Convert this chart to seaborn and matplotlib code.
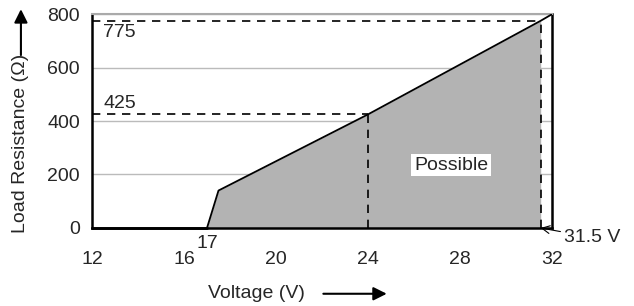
import matplotlib
matplotlib.use('Agg')
import matplotlib.pyplot as plt
import numpy as np
import pandas as pd
import seaborn as sns

# boundary of the possible region (voltage, load resistance)
volts = [17, 17.5, 24, 31.5, 32]
ohms = [0, 140, 425, 775, 800]
fill_volts = [17, 17.5, 24, 31.5]
fill_ohms = [0, 140, 425, 775]

# marked operating points
mark_v = [24, 31.5]
mark_r = [425, 775]

xticks_major = [12, 16, 20, 24, 28, 32]
xticks_minor = [14, 18, 22, 26, 30]
yticks = [0, 200, 400, 600, 800]

sns.set_style('white')
plt.rcParams['font.family'] = ['Liberation Sans', 'DejaVu Sans']
fs = 14

fig = plt.figure(figsize=(6.34, 3.06), dpi=100)
ax = fig.add_axes([0.145, 0.255, 0.726, 0.699])

# grid lines
for y in yticks[1:]:
  ax.axhline(y, color='#bbbbbb', lw=1, zorder=0)

ax.fill_between(fill_volts, fill_ohms, 0, color='#b3b3b3', lw=0, zorder=1)
df = pd.DataFrame({'v': volts, 'r': ohms})
sns.lineplot(data=df, x='v', y='r', color='black', lw=1.3, ax=ax, zorder=3,
             sort=False, estimator=None)
ax.plot([12, 17], [0, 0], color='black', lw=2, zorder=3, clip_on=False)

# dashed guide lines
for v, r in zip(mark_v, mark_r):
  ax.plot([12, v], [r, r], color='black', lw=1.2, ls=(0, (5, 4)), zorder=2)
  ax.plot([v, v], [0, r], color='black', lw=1.2, ls=(0, (5, 4)), zorder=2)
  if r < 500:
    ax.text(12.5, r + 8, str(r), ha='left', va='bottom', fontsize=fs)
  else:
    ax.text(12.5, r - 12, str(r), ha='left', va='top', fontsize=fs)

ax.set_xlim(12, 32)
ax.set_ylim(0, 800)
ax.set_xticks(xticks_major)
ax.set_xticks(xticks_minor, minor=True)
ax.set_yticks(yticks)
ax.tick_params(axis='both', which='both', direction='out', length=4.5, width=1,
               color='black', labelsize=fs)
ax.tick_params(axis='x', which='major', pad=12)
ax.tick_params(axis='y', which='major', pad=4)
for side in ['left', 'bottom', 'right']:
  ax.spines[side].set_color('black')
  ax.spines[side].set_linewidth(1.8)
ax.spines['top'].set_color('#aaaaaa')
ax.spines['top'].set_linewidth(1.5)
ax.set_xlabel('')
ax.set_ylabel('')

ax.text(17, -25, '17', ha='center', va='top', fontsize=fs, clip_on=False)
ax.text(27.6, 235, 'Possible', ha='center', va='center', fontsize=fs,
        bbox=dict(facecolor='white', edgecolor='none', pad=2), zorder=4)
ax.annotate('31.5 V', xy=(31.5, 0), xytext=(32.5, -35), ha='left', va='center',
            fontsize=fs, annotation_clip=False,
            arrowprops=dict(arrowstyle='->', lw=0.8, color='black',
                            shrinkA=0, shrinkB=0))

# axis titles with arrows
fig.text(0.033, 0.53, 'Load Resistance (Ω)', rotation=90, ha='center',
         va='center', fontsize=fs)
ax.annotate('', xy=(0.033, 0.97), xytext=(0.033, 0.82), xycoords='figure fraction',
            arrowprops=dict(arrowstyle='-|>', lw=1.5, color='black', mutation_scale=20,
                            shrinkA=0, shrinkB=0))
fig.text(0.404, 0.042, 'Voltage (V)', ha='center', va='center', fontsize=fs)
ax.annotate('', xy=(0.61, 0.04), xytext=(0.51, 0.04), xycoords='figure fraction',
            arrowprops=dict(arrowstyle='-|>', lw=1.5, color='black', mutation_scale=20,
                            shrinkA=0, shrinkB=0))

fig.savefig('out.png', dpi=100)
